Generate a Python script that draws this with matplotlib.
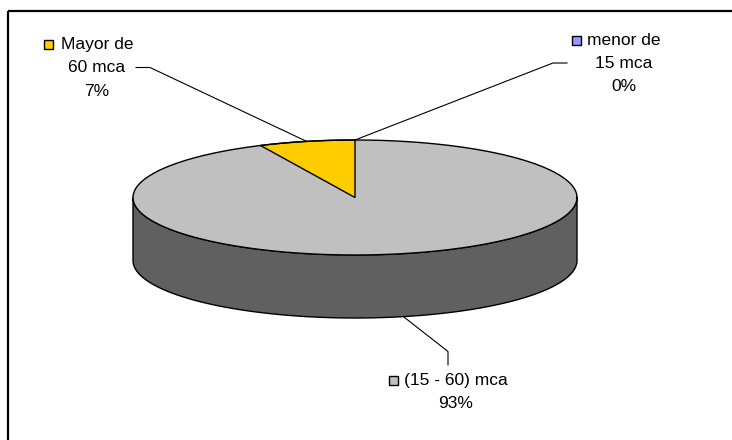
import numpy as np
import matplotlib.pyplot as plt
from matplotlib.patches import Polygon, Rectangle

# -------------------
# DATA
# -------------------
categories = ["menor de\n15 mca", "(15 - 60) mca", "Mayor de\n60 mca"]
values = [0, 93, 7]
pct_labels = ["0%", "93%", "7%"]
top_colors = ["#9999FF", "#C0C0C0", "#FFCC00"]
side_colors = ["#4C4C80", "#606060", "#806600"]

# -------------------
# LAYOUT (pixel space)
# -------------------
W, H = 732, 440
CX, CY = 355, 197.5      # centre of top ellipse
RX, RY = 222, 57.5
DEPTH = 63
FONT = "Liberation Sans"
FS = 12.5
LINE_GAP = 23

# label blocks: centre x, first baseline y, marker box (x, y)
label_pos = [
    (624, 45, (571.5, 36.5)),
    (456, 385, (388.5, 376.5)),
    (97, 49.5, (44, 40.5)),
]
# leader lines: elbow point and end point
leaders = [
    ((553, 63), (567, 63)),
    ((448, 351.5), (448, 365)),
    ((150, 67.5), (136, 67.5)),
]


def ell(theta, dz=0.0):
    t = np.radians(theta)
    return CX + RX * np.cos(t), CY - RY * np.sin(t) + dz


fig = plt.figure(figsize=(W / 100, H / 100), dpi=100)
ax = fig.add_axes([0, 0, 1, 1])
ax.set_xlim(0, W)
ax.set_ylim(H, 0)
ax.axis("off")

total = float(sum(values))
cum = np.concatenate([[0], np.cumsum(values)]) / total
starts = 90 - cum[:-1] * 360
ends = 90 - cum[1:] * 360
mids = (starts + ends) / 2

# side walls (front half only)
for i in range(len(values)):
    a, b = ends[i], starts[i]
    if b - a <= 0:
        continue
    for k in (-1, 0, 1):
        lo, hi = max(a, -180 + 360 * k), min(b, 360 * k)
        if lo >= hi:
            continue
        th = np.linspace(lo, hi, 200)
        tx, ty = ell(th)
        bx, by = ell(th[::-1], DEPTH)
        pts = np.column_stack([np.concatenate([tx, bx]), np.concatenate([ty, by])])
        ax.add_patch(Polygon(pts, closed=True, facecolor=side_colors[i],
                             edgecolor="black", lw=1.0, joinstyle="round"))

# top faces
for i in range(len(values)):
    if values[i] == 0:
        continue
    th = np.linspace(starts[i], ends[i], 300)
    tx, ty = ell(th)
    pts = np.column_stack([np.concatenate([[CX], tx]), np.concatenate([[CY], ty])])
    lw = 1.0 if values[i] < 50 else 0.0
    ax.add_patch(Polygon(pts, closed=True, facecolor=top_colors[i],
                         edgecolor="black", lw=lw, joinstyle="miter"))

# outline of top ellipse
th = np.linspace(0, 360, 400)
ox, oy = ell(th)
ax.plot(ox, oy, color="black", lw=1.0)

# labels and leader lines
for i in range(len(values)):
    if np.sin(np.radians(mids[i])) < 0:
        ax_pt = ell(mids[i], DEPTH)
    else:
        ax_pt = ell(mids[i])
    (ex, ey), (fx, fy) = leaders[i]
    ax.plot([ax_pt[0], ex, fx], [ax_pt[1], ey, fy], color="black", lw=0.8)

    cx, by, (mx, my) = label_pos[i]
    lines = categories[i].split("\n") + [pct_labels[i]]
    for j, line in enumerate(lines):
        ax.text(cx, by + j * LINE_GAP, line, ha="center", va="baseline",
                fontsize=FS, family=FONT, color="black")
    ax.add_patch(Rectangle((mx, my), 9, 9, facecolor=top_colors[i],
                           edgecolor="black", lw=1.0))

# chart frame (right/bottom fall outside the picture)
ax.plot([8, W + 5], [11, 11], color="black", lw=1.6, solid_capstyle="butt")
ax.plot([8, 8], [11, H + 5], color="black", lw=1.6, solid_capstyle="butt")

fig.savefig("out.png", dpi=100)
